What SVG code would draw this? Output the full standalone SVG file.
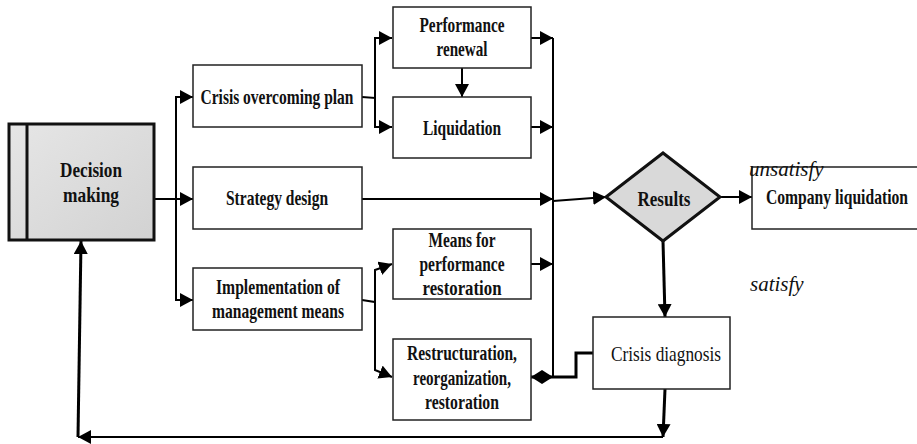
<svg xmlns="http://www.w3.org/2000/svg" width="917" height="444" viewBox="0 0 917 444">
<style>
.box{fill:#fff;stroke:#222;stroke-width:1.5}
.t{font-family:"Liberation Serif","Times New Roman",serif;font-weight:bold;font-size:21px;fill:#111;text-anchor:middle}
.n{font-family:"Liberation Serif","Times New Roman",serif;font-size:21px;fill:#111;text-anchor:middle}
.i{font-family:"Liberation Serif","Times New Roman",serif;font-style:italic;font-size:21px;fill:#111}
.c{fill:none;stroke:#000;stroke-width:2}
.ck{fill:none;stroke:#000;stroke-width:3}
</style>
<defs>
<linearGradient id="g" x1="0" y1="0" x2="1" y2="1">
<stop offset="0" stop-color="#e6e6e6"/>
<stop offset="1" stop-color="#d2d2d2"/>
</linearGradient>
<marker id="a" markerUnits="userSpaceOnUse" markerWidth="13" markerHeight="14" refX="13" refY="7" orient="auto">
<path d="M0,0 L13,7 L0,14 z" fill="#000"/>
</marker>
<marker id="d" markerUnits="userSpaceOnUse" markerWidth="22" markerHeight="14" refX="22" refY="7" orient="auto">
<path d="M0,7 L11,0 L22,7 L11,14 z" fill="#000"/>
</marker>
</defs>

<g id="connectors">
<path class="c" d="M154,199 H193" marker-end="url(#a)"/>
<path class="c" d="M176,199 V97 H193" marker-end="url(#a)"/>
<path class="c" d="M176,199 V300 H193" marker-end="url(#a)"/>
<path class="c" d="M362,97 L375,98 V38 H392" marker-end="url(#a)"/>
<path class="c" d="M375,98 V127 H392" marker-end="url(#a)"/>
<path class="c" d="M462,68 V97" marker-end="url(#a)"/>
<path class="c" d="M531,38 H553" marker-end="url(#a)"/>
<path class="c" d="M531,127 H553" marker-end="url(#a)"/>
<path class="c" d="M362,199 H553" marker-end="url(#a)"/>
<path class="c" d="M531,264 H553" marker-end="url(#a)"/>
<path class="c" d="M553,38 V377"/>
<path class="c" d="M553,201 L606,197" marker-end="url(#a)"/>
<path class="c" d="M362,300 L375,302 V270 L392,264" marker-end="url(#a)"/>
<path class="c" d="M375,302 V370 L392,377" marker-end="url(#a)"/>
<path class="c" d="M720,197 H752" marker-end="url(#a)"/>
<path class="ck" d="M663,241 L665,317" marker-end="url(#a)"/>
<path class="ck" d="M593,353 H576 V377 H531" marker-end="url(#d)"/>
<path class="ck" d="M665,389 L663,437" marker-end="url(#a)"/>
<path class="c" d="M663,437 H78" marker-end="url(#a)"/>
<path class="ck" d="M78,437 L81,241" marker-end="url(#a)"/>
</g>

<g id="decision-making">
<rect x="9" y="124" width="145" height="116" fill="url(#g)" stroke="#111" stroke-width="3"/>
<line x1="27" y1="124" x2="27" y2="240" stroke="#111" stroke-width="3"/>
<text class="t" x="91" y="177" font-size="23" textLength="62" lengthAdjust="spacingAndGlyphs">Decision</text>
<text class="t" x="91" y="202" font-size="23" textLength="56" lengthAdjust="spacingAndGlyphs">making</text>
</g>

<g id="crisis-overcoming-plan">
<rect class="box" x="193" y="65" width="169" height="62"/>
<text class="t" x="277" y="104" textLength="153" lengthAdjust="spacingAndGlyphs">Crisis overcoming plan</text>
</g>

<g id="strategy-design">
<rect class="box" x="193" y="167" width="169" height="62"/>
<text class="t" x="277" y="205" textLength="102" lengthAdjust="spacingAndGlyphs">Strategy design</text>
</g>

<g id="implementation">
<rect class="box" x="193" y="268" width="169" height="62"/>
<text class="t" x="278" y="294" textLength="124" lengthAdjust="spacingAndGlyphs">Implementation of</text>
<text class="t" x="278" y="318" textLength="132" lengthAdjust="spacingAndGlyphs">management means</text>
</g>

<g id="performance-renewal">
<rect class="box" x="393" y="7" width="138" height="61"/>
<text class="t" x="462" y="32" textLength="85" lengthAdjust="spacingAndGlyphs">Performance</text>
<text class="t" x="462" y="56" textLength="51" lengthAdjust="spacingAndGlyphs">renewal</text>
</g>

<g id="liquidation">
<rect class="box" x="393" y="97" width="138" height="61"/>
<text class="t" x="462" y="135" textLength="78" lengthAdjust="spacingAndGlyphs">Liquidation</text>
</g>

<g id="means-restoration">
<rect class="box" x="393" y="229" width="138" height="70"/>
<text class="t" x="462" y="247" textLength="67" lengthAdjust="spacingAndGlyphs">Means for</text>
<text class="t" x="462" y="271" textLength="85" lengthAdjust="spacingAndGlyphs">performance</text>
<text class="t" x="462" y="295" textLength="79" lengthAdjust="spacingAndGlyphs">restoration</text>
</g>

<g id="restructuration">
<rect class="box" x="393" y="339" width="138" height="81"/>
<text class="t" x="462" y="360" textLength="110" lengthAdjust="spacingAndGlyphs">Restructuration,</text>
<text class="t" x="462" y="385" textLength="98" lengthAdjust="spacingAndGlyphs">reorganization,</text>
<text class="t" x="462" y="409" textLength="74" lengthAdjust="spacingAndGlyphs">restoration</text>
</g>

<g id="results">
<path d="M606,197 L663,153 L720,197 L663,241 z" fill="#d9d9d9" stroke="#111" stroke-width="3"/>
<text class="t" x="664" y="206" textLength="53" lengthAdjust="spacingAndGlyphs">Results</text>
</g>

<g id="company-liquidation">
<rect class="box" x="752" y="167" width="170" height="62"/>
<text class="t" x="837" y="204" textLength="142" lengthAdjust="spacingAndGlyphs">Company liquidation</text>
</g>

<g id="crisis-diagnosis">
<rect class="box" x="593" y="317" width="137" height="72"/>
<text class="n" x="666" y="361" textLength="110" lengthAdjust="spacingAndGlyphs">Crisis diagnosis</text>
</g>

<g id="labels">
<text class="i" x="749" y="176">unsatisfy</text>
<text class="i" x="750" y="291">satisfy</text>
</g>
</svg>
